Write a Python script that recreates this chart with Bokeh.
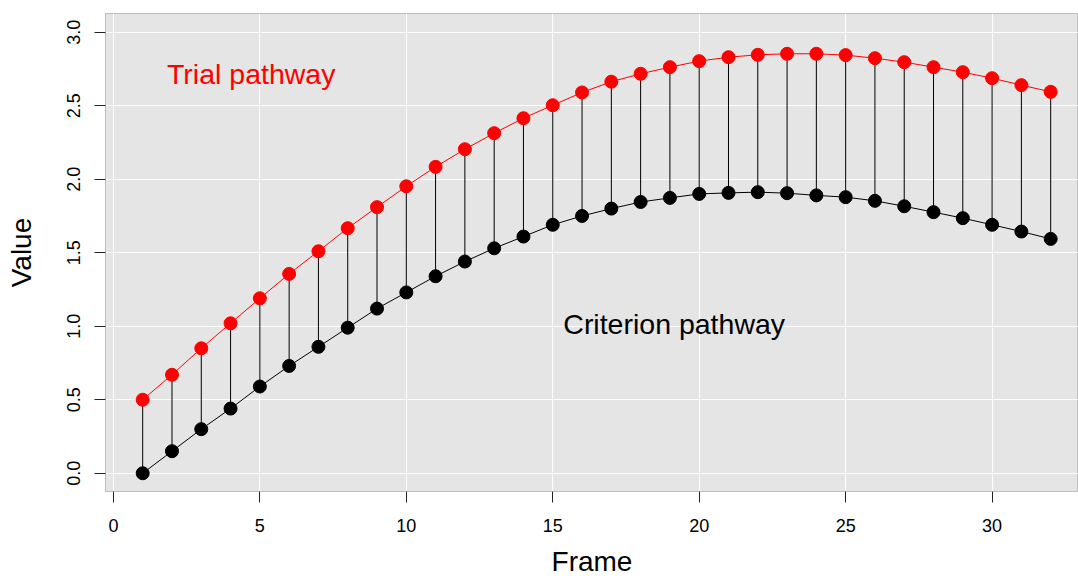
from bokeh.plotting import figure
from bokeh.models import Range1d, FixedTicker, PrintfTickFormatter, Label, ColumnDataSource
from bokeh.embed import file_html
from bokeh.resources import INLINE

frames = list(range(1, 33))
criterion = [0.00, 0.15, 0.30, 0.44, 0.59, 0.73, 0.86, 0.99, 1.12, 1.23,
             1.34, 1.44, 1.53, 1.61, 1.69, 1.75, 1.80, 1.845, 1.873, 1.90,
             1.907, 1.912, 1.905, 1.89, 1.878, 1.853, 1.816, 1.776, 1.735, 1.69,
             1.644, 1.594]
trial = [0.50, 0.67, 0.85, 1.02, 1.19, 1.356, 1.51, 1.667, 1.81, 1.952,
         2.084, 2.204, 2.313, 2.415, 2.503, 2.59, 2.663, 2.717, 2.762, 2.803,
         2.83, 2.846, 2.853, 2.853, 2.844, 2.823, 2.796, 2.762, 2.728, 2.687,
         2.64, 2.594]
x_ticks = [0, 5, 10, 15, 20, 25, 30]
y_ticks = [0.0, 0.5, 1.0, 1.5, 2.0, 2.5, 3.0]

FONT = "Liberation Sans"

src = ColumnDataSource(dict(frame=frames, crit=criterion, trial=trial))

p = figure(frame_width=973, frame_height=478, output_backend="svg", toolbar_location=None,
           x_range=Range1d(-0.27, 32.95), y_range=Range1d(-0.124, 3.127),
           min_border_left=105, min_border_right=0, min_border_top=13, min_border_bottom=87)
p.background_fill_color = "#E5E5E5"
p.border_fill_color = "white"
p.outline_line_color = "#BDBDBD"
p.outline_line_width = 1

p.xaxis.ticker = FixedTicker(ticks=x_ticks)
p.yaxis.ticker = FixedTicker(ticks=y_ticks)
p.yaxis.formatter = PrintfTickFormatter(format="%.1f")
p.xgrid.grid_line_color = "white"
p.ygrid.grid_line_color = "white"
p.xgrid.grid_line_width = 1
p.ygrid.grid_line_width = 1

for ax in (p.xaxis[0], p.yaxis[0]):
    ax.axis_line_color = None
    ax.major_tick_in = 0
    ax.major_tick_out = 11
    ax.major_tick_line_color = "#222222"
    ax.minor_tick_line_color = None
    ax.major_label_text_font = FONT
    ax.major_label_text_font_size = "18px"
    ax.major_label_text_color = "black"
    ax.axis_label_text_font = FONT
    ax.axis_label_text_font_size = "28px"
    ax.axis_label_text_font_style = "normal"
    ax.axis_label_text_color = "black"

p.xaxis.axis_label = "Frame"
p.yaxis.axis_label = "Value"
p.xaxis.major_label_standoff = 16
p.xaxis.axis_label_standoff = 11
p.yaxis.major_label_orientation = "vertical"
p.yaxis.major_label_standoff = 14
p.yaxis.axis_label_standoff = 28

p.segment(x0="frame", y0="crit", x1="frame", y1="trial", source=src,
          line_color="black", line_width=1)
p.line("frame", "crit", source=src, line_color="black", line_width=1)
p.line("frame", "trial", source=src, line_color="red", line_width=1)
p.scatter("frame", "crit", source=src, size=13, fill_color="black", line_color="black")
p.scatter("frame", "trial", source=src, size=13, fill_color="red", line_color="red")

p.add_layout(Label(x=1.83, y=2.717, text="Trial pathway", text_color="red",
                   text_font=FONT, text_font_size="28.5px", text_align="left",
                   text_baseline="alphabetic"))
p.add_layout(Label(x=15.36, y=1.018, text="Criterion pathway", text_color="black",
                   text_font=FONT, text_font_size="28.5px", text_align="left",
                   text_baseline="alphabetic"))

open("out.html", "w").write(file_html(p, INLINE))
